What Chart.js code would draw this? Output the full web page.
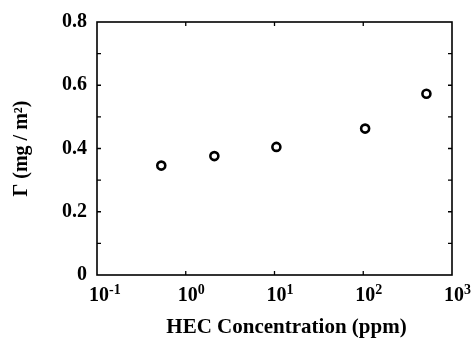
<!DOCTYPE html>
<html>
<head>
<meta charset="utf-8">
<script src="https://cdn.jsdelivr.net/npm/chart.js@4/dist/chart.umd.min.js"></script>
<style>
  html, body { margin: 0; padding: 0; background: #fff; }
  #wrap { width: 474px; height: 338px; }
</style>
</head>
<body>
<div id="wrap"><canvas id="adsorption"></canvas></div>
<script>
// HEC concentration (ppm) vs adsorbed amount (mg/m2)
const concentration = [0.53, 2.1, 10.5, 105, 515];
const gamma = [0.346, 0.376, 0.405, 0.463, 0.573];

const xTickValues = [0.1, 1, 10, 100, 1000];
const xTickExponents = ['-1', '0', '1', '2', '3'];
const yMinorTicks = [0.1, 0.2, 0.3, 0.4, 0.5, 0.6, 0.7];
const yTickLabels = ['0', '0.2', '0.4', '0.6', '0.8'];
const xTitle = 'HEC Concentration (ppm)';

const serif = '"Liberation Serif", "Times New Roman", serif';

// frame, inward ticks, 10^n labels and x title
const framePlugin = {
  id: 'frame',
  afterDraw(chart) {
    const ctx = chart.ctx;
    const area = chart.chartArea;
    const xs = chart.scales.x;
    const ys = chart.scales.y;
    ctx.save();
    ctx.strokeStyle = '#000';
    ctx.lineWidth = 1.6;
    ctx.strokeRect(area.left, area.top, area.right - area.left, area.bottom - area.top);

    ctx.lineWidth = 1.3;
    ctx.beginPath();
    yMinorTicks.forEach(v => {
      const y = ys.getPixelForValue(v);
      ctx.moveTo(area.left, y); ctx.lineTo(area.left + 4, y);
      ctx.moveTo(area.right, y); ctx.lineTo(area.right - 4, y);
    });
    xTickValues.slice(1, -1).forEach(v => {
      const x = xs.getPixelForValue(v);
      ctx.moveTo(x, area.bottom); ctx.lineTo(x, area.bottom - 4);
      ctx.moveTo(x, area.top); ctx.lineTo(x, area.top + 4);
    });
    ctx.stroke();

    ctx.fillStyle = '#000';
    ctx.textBaseline = 'alphabetic';
    ctx.textAlign = 'left';
    xTickValues.forEach((v, i) => {
      const x = xs.getPixelForValue(v) - 8;
      const base = area.bottom + 26;
      ctx.font = 'bold 20px ' + serif;
      ctx.fillText('10', x, base);
      const w = ctx.measureText('10').width;
      ctx.font = 'bold 14px ' + serif;
      ctx.fillText(xTickExponents[i], x + w, base - 7);
    });

    ctx.font = 'bold 21px ' + serif;
    ctx.textAlign = 'center';
    ctx.fillText(xTitle, (area.left + area.right) / 2 + 12, area.bottom + 58);
    ctx.restore();
  }
};

new Chart(document.getElementById('adsorption'), {
  type: 'scatter',
  plugins: [framePlugin],
  data: {
    datasets: [{
      data: concentration.map((c, i) => ({ x: c, y: gamma[i] })),
      pointRadius: 4,
      pointHoverRadius: 4,
      pointBorderWidth: 2.6,
      pointBorderColor: '#000',
      pointBackgroundColor: '#fff'
    }]
  },
  options: {
    responsive: true,
    maintainAspectRatio: false,
    animation: false,
    events: [],
    layout: { padding: { top: 20, right: 22, left: 0, bottom: 0 } },
    plugins: { legend: { display: false }, tooltip: { enabled: false } },
    scales: {
      x: {
        type: 'logarithmic',
        min: 0.1,
        max: 1000,
        grid: { display: false, drawTicks: false },
        border: { display: false },
        ticks: { display: false },
        afterFit(scale) { scale.height = 63; }
      },
      y: {
        min: 0,
        max: 0.8,
        grid: { display: false, drawTicks: false, tickLength: 0 },
        border: { display: false },
        ticks: {
          stepSize: 0.2,
          padding: 10,
          color: '#000',
          font: { family: serif, size: 20, weight: 'bold' },
          callback: (v, i) => yTickLabels[i]
        },
        title: {
          display: true,
          text: 'Γ (mg / m²)',
          color: '#000',
          font: { family: serif, size: 20, weight: 'bold' },
          padding: { top: 10, bottom: 0 }
        },
        afterFit(scale) { scale.width = 97; }
      }
    }
  }
});
</script>
</body>
</html>
